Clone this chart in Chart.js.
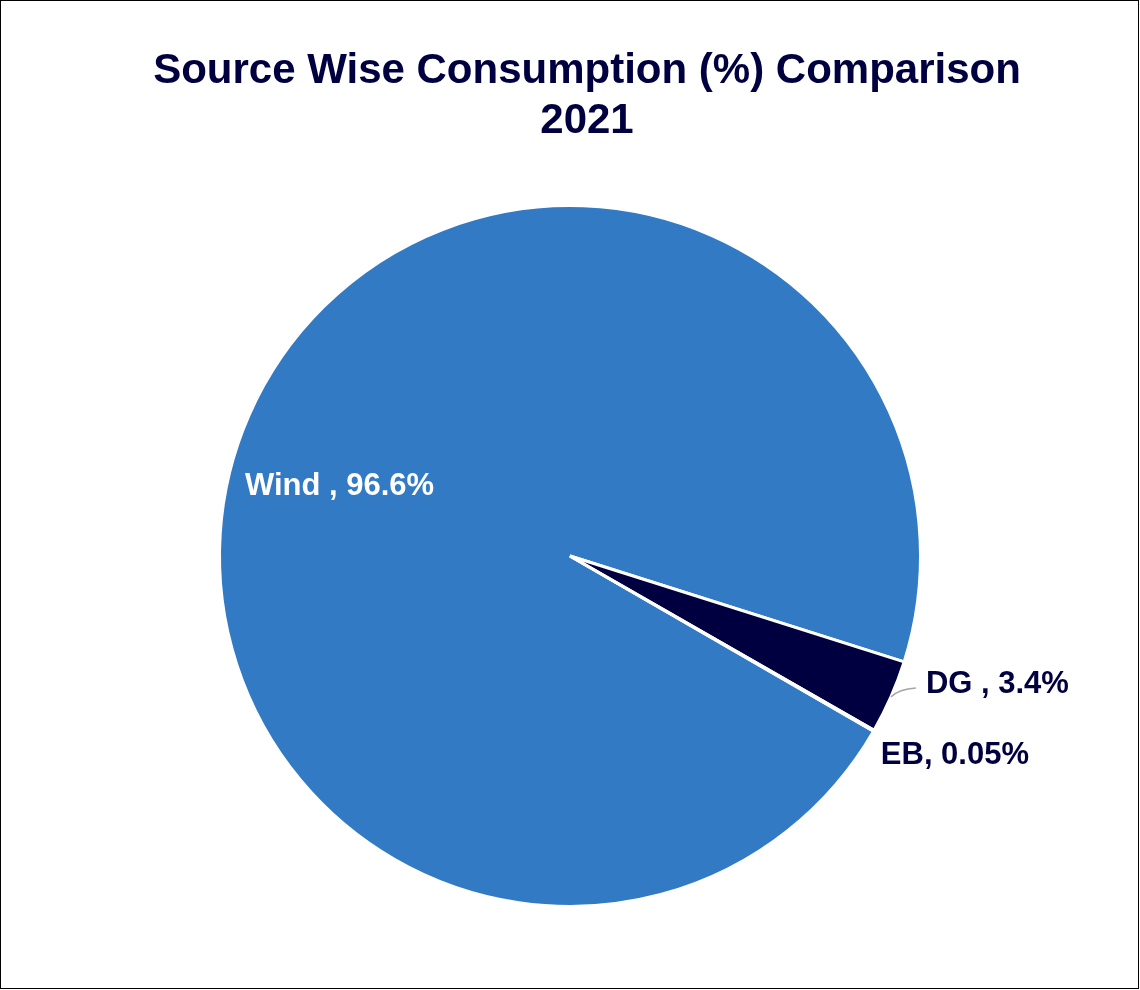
<!DOCTYPE html>
<html>
<head>
<meta charset="utf-8">
<script src="https://cdn.jsdelivr.net/npm/chart.js@4.4.0/dist/chart.umd.min.js"></script>
<style>
html,body{margin:0;padding:0;background:#fff;}
#wrap{width:1140px;height:990px;position:relative;}
</style>
</head>
<body>
<div id="wrap"><canvas id="pie"></canvas></div>
<script>
const sources = ['Wind', 'DG', 'EB'];
const shares = [96.6, 3.4, 0.05];
const shareText = ['96.6%', '3.4%', '0.05%'];
const titleLines = ['Source Wise Consumption (%) Comparison', '2021'];
const sliceColors = ['#327ac4', '#000040', '#000040'];

// label placement per slice (layout only)
const labelSpots = [
  {mode: 'inside', r: 0.70, dx: -6, dy: 29, color: '#ffffff', sep: ' , '},
  {mode: 'outside', dx: 35, dy: -12, color: '#000040', sep: ' , ', leader: true},
  {mode: 'outside', dx: 7, dy: 25, color: '#000040', sep: ', '}
];

const labelPlugin = {
  id: 'sliceLabels',
  afterDatasetsDraw(chart) {
    const ctx = chart.ctx;
    const arcs = chart.getDatasetMeta(0).data;
    ctx.save();
    ctx.font = 'bold 31px "Liberation Sans", Arial, sans-serif';
    ctx.textBaseline = 'middle';
    arcs.forEach((arc, i) => {
      const p = arc.getProps(['x', 'y', 'startAngle', 'endAngle', 'outerRadius']);
      const mid = (p.startAngle + p.endAngle) / 2;
      const spot = labelSpots[i];
      const txt = sources[i] + spot.sep + shareText[i];
      ctx.fillStyle = spot.color;
      if (spot.mode === 'inside') {
        const lx = p.x + Math.cos(mid) * p.outerRadius * spot.r;
        const ly = p.y + Math.sin(mid) * p.outerRadius * spot.r;
        ctx.textAlign = 'center';
        ctx.fillText(txt, lx + spot.dx, ly + spot.dy);
      } else {
        const ox = p.x + Math.cos(mid) * p.outerRadius;
        const oy = p.y + Math.sin(mid) * p.outerRadius;
        if (spot.leader) {
          ctx.strokeStyle = '#a6a6a6';
          ctx.lineWidth = 1.5;
          ctx.beginPath();
          ctx.moveTo(ox, oy);
          ctx.quadraticCurveTo(ox + 8, oy - 8, ox + spot.dx - 10, oy - 9);
          ctx.stroke();
        }
        ctx.textAlign = 'left';
        ctx.fillText(txt, ox + spot.dx, oy + spot.dy);
      }
    });
    ctx.restore();
  }
};

const titleFrame = {
  id: 'titleFrame',
  afterDraw(chart) {
    const ctx = chart.ctx;
    ctx.save();
    ctx.fillStyle = '#000040';
    ctx.font = 'bold 42px "Liberation Sans", Arial, sans-serif';
    ctx.textAlign = 'center';
    ctx.textBaseline = 'middle';
    titleLines.forEach((line, i) => ctx.fillText(line, 587, 71 + i * 50));
    ctx.strokeStyle = '#000';
    ctx.lineWidth = 1;
    ctx.strokeRect(0.5, 0.5, chart.width - 2, chart.height - 2);
    ctx.restore();
  }
};

const pieCtx = document.getElementById('pie').getContext('2d');
new Chart(pieCtx, {
  type: 'pie',
  data: {
    labels: sources,
    datasets: [{
      data: shares,
      backgroundColor: sliceColors,
      borderColor: '#ffffff',
      borderWidth: 3
    }]
  },
  options: {
    responsive: true,
    maintainAspectRatio: false,
    animation: false,
    rotation: 120,
    layout: {padding: {top: 204, bottom: 82, left: 0, right: 0}},
    plugins: {
      legend: {display: false},
      tooltip: {enabled: false},
      title: {display: false}
    }
  },
  plugins: [labelPlugin, titleFrame]
});
</script>
</body>
</html>
